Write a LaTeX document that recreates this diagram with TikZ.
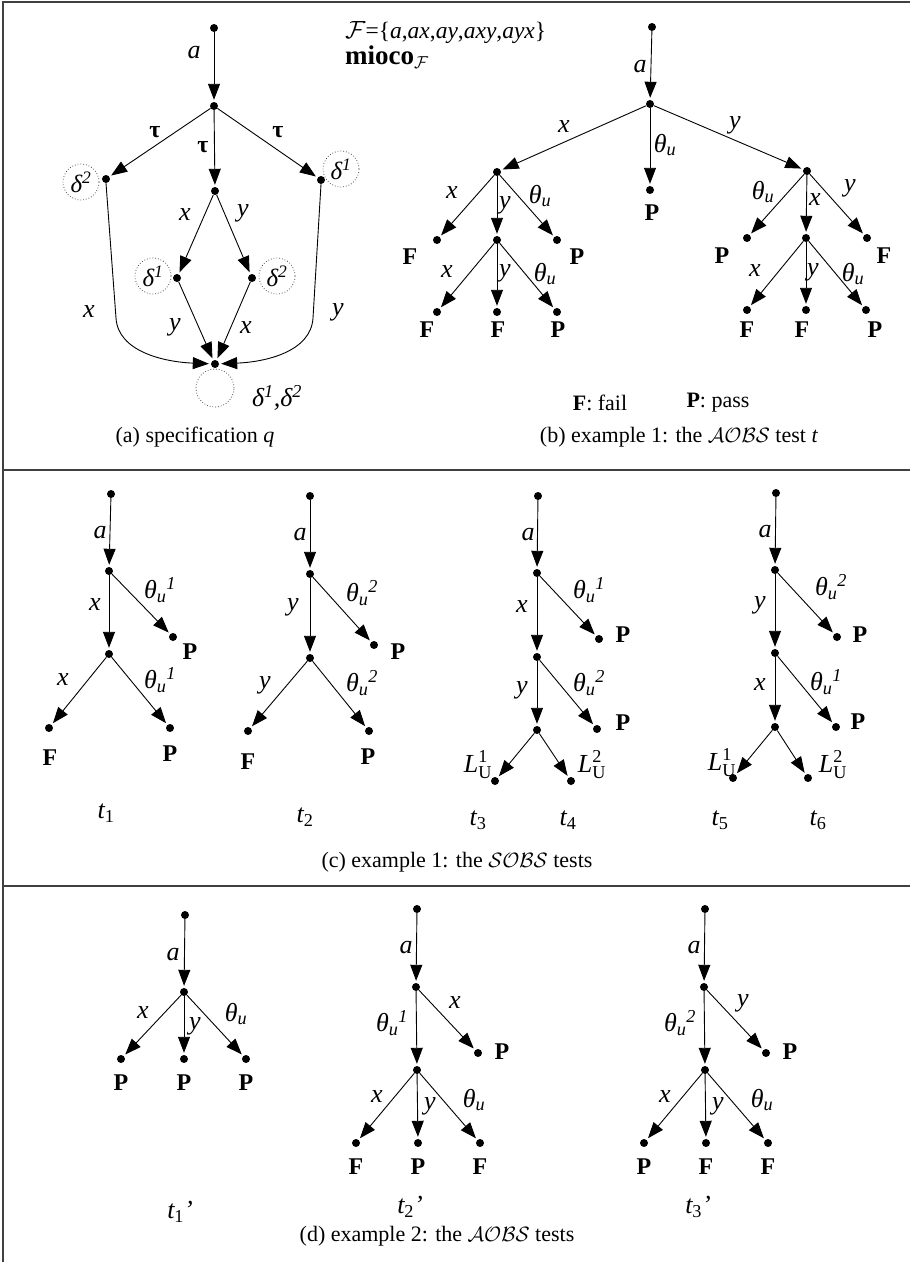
\documentclass[tikz,border=0pt]{standalone}
\usepackage{fontspec}
\usepackage{amsmath}
\setmainfont{Liberation Serif}
\usetikzlibrary{arrows.meta}

% label helpers
\newcommand{\thu}{\textit{θ}$_{\textit{u}}$}
\newcommand{\thuk}[1]{\textit{θ}$_{\textit{u}}{}^{\textit{#1}}$}
\newcommand{\dlt}[1]{\textit{δ}$^{\textit{#1}}$}
\newcommand{\LU}[1]{\textit{L}$_{\textup{U}}^{\textup{#1}}$}
\newcommand{\tsub}[1]{\textit{t}$_{\textup{#1}}$}

\tikzset{
  dot/.style={circle,fill=black,inner sep=0pt,minimum size=8pt},
  arr/.style={draw=black,line width=0.9pt,shorten >=2pt,-{Triangle[length=16pt,width=12pt]}},
  ring/.style={circle,draw=black!70,dotted,line width=0.8pt,inner sep=0pt,minimum size=36pt,
    font=\fontsize{25}{28}\selectfont\itshape},
  lbl/.style={font=\fontsize{26}{30}\selectfont\itshape,inner sep=0pt},
  term/.style={font=\fontsize{24}{28}\selectfont\bfseries,inner sep=0pt},
  captxt/.style={font=\fontsize{22}{26}\selectfont,inner sep=0pt},
  panelline/.style={draw=black!75,line width=1.5pt}
}

\begin{document}
\begin{tikzpicture}[x=1pt,y=-1pt]
\useasboundingbox (0,0) rectangle (910,1262);

% panel frame
\draw[panelline] (3,1262) -- (3,2) -- (910,2);
\draw[panelline] (3,470) -- (910,470);
\draw[panelline] (3,886) -- (910,886);

% ---------------- (a) specification ----------------
\node[dot] (a0) at (214,28) {};
\node[dot] (a1) at (214,106) {};
\node[dot] (aL) at (106,179) {};
\node[dot] (aM) at (215,191) {};
\node[dot] (aR) at (321,180) {};
\node[dot] (aML) at (177,278) {};
\node[dot] (aMR) at (252,278) {};
\node[dot] (aB) at (215,364) {};
\coordinate (lbend) at (116,318);
\coordinate (rbend) at (313,318);

\draw[arr] (a0) -- (a1);
\draw[arr] (a1) -- (aL);
\draw[arr] (a1) -- (aM);
\draw[arr] (a1) -- (aR);
\draw[arr] (aM) -- (aML);
\draw[arr] (aM) -- (aMR);
\draw[arr] (aML) -- (aB);
\draw[arr] (aMR) -- (aB);
\draw[arr] (aL.south) -- (lbend) .. controls (118,352) and (165,362) .. (aB);
\draw[arr] (aR.south) -- (rbend) .. controls (311,352) and (265,362) .. (aB);

\node[ring] (cL) at (81,182) {\dlt{2}};
\node[ring] (cR) at (341,169) {\dlt{1}};
\node[ring] (cML) at (153,276) {\dlt{1}};
\node[ring] (cMR) at (277,276) {\dlt{2}};
\node[ring,minimum size=38pt] (cB) at (215,388) {};

\node[lbl] (la1) at (194,53) {a};
\node[term] (la2) at (155,132) {τ};
\node[term] (la3) at (203,147) {τ};
\node[term] (la4) at (278,132) {τ};
\node[lbl] (la5) at (185,215) {x};
\node[lbl] (la6) at (243,213) {y};
\node[lbl] (la7) at (89,312) {x};
\node[lbl] (la8) at (338,312) {y};
\node[lbl] (la9) at (175,327) {y};
\node[lbl] (la10) at (246,328) {x};
\node[lbl] (la11) at (277,398) {\dlt{1},\dlt{2}};
\node[captxt] (capa) at (195,437) {(a) specification \textit{q}};

\node[captxt,anchor=west,font=\fontsize{23.5}{27}\selectfont] (fam) at (345,33)
  {$\mathcal{F}$=\{\textit{a},\textit{ax},\textit{ay},\textit{axy},\textit{ayx}\}};
\node[captxt,anchor=west,font=\fontsize{27}{30}\selectfont] (mio) at (345,57) {\textbf{mioco}$_{\mathcal{F}}$};

% ---------------- (b) AOBS test t ----------------
\node[dot] (b0) at (652,27) {};
\node[dot] (b1) at (650,104) {};
\node[dot] (bL) at (497,172) {};
\node[dot] (bM) at (650,190) {};
\node[dot] (bR) at (807,171) {};
\node[dot] (bL1) at (437,240) {};
\node[dot] (bL2) at (497,240) {};
\node[dot] (bL3) at (557,240) {};
\node[dot] (bL21) at (437,312) {};
\node[dot] (bL22) at (497,312) {};
\node[dot] (bL23) at (557,312) {};
\node[dot] (bR1) at (747,238) {};
\node[dot] (bR2) at (806,238) {};
\node[dot] (bR3) at (867,238) {};
\node[dot] (bR21) at (747,310) {};
\node[dot] (bR22) at (806,310) {};
\node[dot] (bR23) at (866,310) {};

\draw[arr] (b0) -- (b1);
\draw[arr] (b1) -- (bL);
\draw[arr] (b1) -- (bM);
\draw[arr] (b1) -- (bR);
\draw[arr] (bL) -- (bL1);
\draw[arr] (bL) -- (bL2);
\draw[arr] (bL) -- (bL3);
\draw[arr] (bL2) -- (bL21);
\draw[arr] (bL2) -- (bL22);
\draw[arr] (bL2) -- (bL23);
\draw[arr] (bR) -- (bR1);
\draw[arr] (bR) -- (bR2);
\draw[arr] (bR) -- (bR3);
\draw[arr] (bR2) -- (bR21);
\draw[arr] (bR2) -- (bR22);
\draw[arr] (bR2) -- (bR23);

\node[term] (tb1) at (652,213) {P};
\node[term] (tb2) at (410,257) {F};
\node[term] (tb3) at (577,257) {P};
\node[term] (tb4) at (427,330) {F};
\node[term] (tb5) at (498,330) {F};
\node[term] (tb6) at (558,330) {P};
\node[term] (tb7) at (722,256) {P};
\node[term] (tb8) at (884,256) {F};
\node[term] (tb9) at (747,330) {F};
\node[term] (tb10) at (802,330) {F};
\node[term] (tb11) at (875,330) {P};

\node[lbl] (lb1) at (640,67) {a};
\node[lbl] (lb2) at (564,127) {x};
\node[lbl] (lb3) at (665,145) {\thu};
\node[lbl] (lb4) at (735,125) {y};
\node[lbl] (lb5) at (452,193) {x};
\node[lbl] (lb6) at (505,205) {y};
\node[lbl] (lb7) at (540,196) {\thu};
\node[lbl] (lb8) at (447,272) {x};
\node[lbl] (lb9) at (505,273) {y};
\node[lbl] (lb10) at (545,274) {\thu};
\node[lbl] (lb11) at (763,192) {\thu};
\node[lbl] (lb12) at (815,200) {x};
\node[lbl] (lb13) at (850,188) {y};
\node[lbl] (lb14) at (755,271) {x};
\node[lbl] (lb15) at (813,272) {y};
\node[lbl] (lb16) at (853,274) {\thu};

\node[captxt] (legF) at (600,403) {\textbf{F}: fail};
\node[captxt] (legP) at (718,403) {\textbf{P}: pass};
\node[captxt] (capb) at (679,437) {(b) example 1: the $\mathcal{AOBS}$ test \textit{t}};

% ---------------- (c) SOBS tests ----------------
% t1
\node[dot] (c1r) at (111,494) {};
\node[dot] (c1a) at (109,571) {};
\node[dot] (c1p) at (173,637) {};
\node[dot] (c1b) at (109,654) {};
\node[dot] (c1f) at (49,728) {};
\node[dot] (c1q) at (170,728) {};
\draw[arr] (c1r) -- (c1a);
\draw[arr] (c1a) -- (c1p);
\draw[arr] (c1a) -- (c1b);
\draw[arr] (c1b) -- (c1f);
\draw[arr] (c1b) -- (c1q);
\node[term] (tc1) at (190,652) {P};
\node[term] (tc2) at (50,758) {F};
\node[term] (tc3) at (170,754) {P};
\node[lbl] (lc1) at (100,533) {a};
\node[lbl] (lc2) at (95,605) {x};
\node[lbl] (lc3) at (160,590) {\thuk{1}};
\node[lbl] (lc4) at (63,680) {x};
\node[lbl] (lc5) at (160,680) {\thuk{1}};
\node[lbl] (nt1) at (106,813) {\tsub{1}};

% t2
\node[dot] (c2r) at (310,496) {};
\node[dot] (c2a) at (310,574) {};
\node[dot] (c2p) at (374,645) {};
\node[dot] (c2b) at (310,658) {};
\node[dot] (c2f) at (248,731) {};
\node[dot] (c2q) at (369,731) {};
\draw[arr] (c2r) -- (c2a);
\draw[arr] (c2a) -- (c2p);
\draw[arr] (c2a) -- (c2b);
\draw[arr] (c2b) -- (c2f);
\draw[arr] (c2b) -- (c2q);
\node[term] (tc4) at (398,652) {P};
\node[term] (tc5) at (248,762) {F};
\node[term] (tc6) at (368,757) {P};
\node[lbl] (lc6) at (300,535) {a};
\node[lbl] (lc7) at (293,607) {y};
\node[lbl] (lc8) at (362,593) {\thuk{2}};
\node[lbl] (lc9) at (265,685) {y};
\node[lbl] (lc10) at (362,683) {\thuk{2}};
\node[lbl] (nt2) at (305,817) {\tsub{2}};

% t3, t4
\node[dot] (c3r) at (538,496) {};
\node[dot] (c3a) at (537,573) {};
\node[dot] (c3p) at (599,639) {};
\node[dot] (c3b) at (537,657) {};
\node[dot] (c3q) at (597,729) {};
\node[dot] (c3c) at (537,730) {};
\node[dot] (c3l) at (495,781) {};
\node[dot] (c3m) at (571,781) {};
\draw[arr] (c3r) -- (c3a);
\draw[arr] (c3a) -- (c3p);
\draw[arr] (c3a) -- (c3b);
\draw[arr] (c3b) -- (c3q);
\draw[arr] (c3b) -- (c3c);
\draw[arr] (c3c) -- (c3l);
\draw[arr] (c3c) -- (c3m);
\node[term] (tc7) at (623,635) {P};
\node[term] (tc8) at (623,723) {P};
\node[lbl] (lc11) at (478,765) {\LU{1}};
\node[lbl] (lc12) at (592,765) {\LU{2}};
\node[lbl] (lc13) at (528,535) {a};
\node[lbl] (lc14) at (522,607) {x};
\node[lbl] (lc15) at (589,590) {\thuk{1}};
\node[lbl] (lc16) at (522,690) {y};
\node[lbl] (lc17) at (589,683) {\thuk{2}};
\node[lbl] (nt3) at (478,820) {\tsub{3}};
\node[lbl] (nt4) at (568,820) {\tsub{4}};

% t5, t6
\node[dot] (c5r) at (776,493) {};
\node[dot] (c5a) at (775,570) {};
\node[dot] (c5p) at (837,637) {};
\node[dot] (c5b) at (775,653) {};
\node[dot] (c5q) at (836,727) {};
\node[dot] (c5c) at (775,727) {};
\node[dot] (c5l) at (733,778) {};
\node[dot] (c5m) at (808,778) {};
\draw[arr] (c5r) -- (c5a);
\draw[arr] (c5a) -- (c5p);
\draw[arr] (c5a) -- (c5b);
\draw[arr] (c5b) -- (c5q);
\draw[arr] (c5b) -- (c5c);
\draw[arr] (c5c) -- (c5l);
\draw[arr] (c5c) -- (c5m);
\node[term] (tc9) at (860,635) {P};
\node[term] (tc10) at (858,722) {P};
\node[lbl] (lc18) at (722,763) {\LU{1}};
\node[lbl] (lc19) at (833,765) {\LU{2}};
\node[lbl] (lc20) at (765,532) {a};
\node[lbl] (lc21) at (760,605) {y};
\node[lbl] (lc22) at (831,587) {\thuk{2}};
\node[lbl] (lc23) at (760,685) {x};
\node[lbl] (lc24) at (826,682) {\thuk{1}};
\node[lbl] (nt5) at (720,820) {\tsub{5}};
\node[lbl] (nt6) at (818,820) {\tsub{6}};

\node[captxt] (capc) at (457,862) {(c) example 1: the $\mathcal{SOBS}$ tests};

% ---------------- (d) example 2 ----------------
% t1'
\node[dot] (d1r) at (185,915) {};
\node[dot] (d1a) at (184,992) {};
\node[dot] (d1x) at (121,1059) {};
\node[dot] (d1y) at (184,1059) {};
\node[dot] (d1t) at (246,1059) {};
\draw[arr] (d1r) -- (d1a);
\draw[arr] (d1a) -- (d1x);
\draw[arr] (d1a) -- (d1y);
\draw[arr] (d1a) -- (d1t);
\node[term] (td1) at (121,1083) {P};
\node[term] (td2) at (184,1083) {P};
\node[term] (td3) at (246,1083) {P};
\node[lbl] (ld1) at (173,955) {a};
\node[lbl] (ld2) at (143,1013) {x};
\node[lbl] (ld3) at (195,1026) {y};
\node[lbl] (ld4) at (236,1014) {\thu};
\node[lbl] (nd1) at (180,1212) {\tsub{1}'};

% t2'
\node[dot] (d2r) at (417,909) {};
\node[dot] (d2a) at (416,987) {};
\node[dot] (d2p) at (478,1053) {};
\node[dot] (d2b) at (417,1070) {};
\node[dot] (d2x) at (356,1143) {};
\node[dot] (d2y) at (418,1143) {};
\node[dot] (d2t) at (480,1143) {};
\draw[arr] (d2r) -- (d2a);
\draw[arr] (d2a) -- (d2p);
\draw[arr] (d2a) -- (d2b);
\draw[arr] (d2b) -- (d2x);
\draw[arr] (d2b) -- (d2y);
\draw[arr] (d2b) -- (d2t);
\node[term] (td4) at (502,1052) {P};
\node[term] (td5) at (356,1167) {F};
\node[term] (td6) at (418,1167) {P};
\node[term] (td7) at (480,1167) {F};
\node[lbl] (ld5) at (406,948) {a};
\node[lbl] (ld6) at (392,1023) {\thuk{1}};
\node[lbl] (ld7) at (455,1003) {x};
\node[lbl] (ld8) at (377,1097) {x};
\node[lbl] (ld9) at (430,1106) {y};
\node[lbl] (ld10) at (474,1100) {\thu};
\node[lbl] (nd2) at (410,1207) {\tsub{2}'};

% t3'
\node[dot] (d3r) at (705,909) {};
\node[dot] (d3a) at (704,987) {};
\node[dot] (d3p) at (766,1053) {};
\node[dot] (d3b) at (705,1070) {};
\node[dot] (d3x) at (644,1143) {};
\node[dot] (d3y) at (706,1143) {};
\node[dot] (d3t) at (768,1143) {};
\draw[arr] (d3r) -- (d3a);
\draw[arr] (d3a) -- (d3p);
\draw[arr] (d3a) -- (d3b);
\draw[arr] (d3b) -- (d3x);
\draw[arr] (d3b) -- (d3y);
\draw[arr] (d3b) -- (d3t);
\node[term] (td8) at (790,1052) {P};
\node[term] (td9) at (644,1167) {P};
\node[term] (td10) at (706,1167) {F};
\node[term] (td11) at (768,1167) {F};
\node[lbl] (ld11) at (694,948) {a};
\node[lbl] (ld12) at (680,1023) {\thuk{2}};
\node[lbl] (ld13) at (743,1003) {y};
\node[lbl] (ld14) at (665,1097) {x};
\node[lbl] (ld15) at (718,1106) {y};
\node[lbl] (ld16) at (762,1100) {\thu};
\node[lbl] (nd3) at (698,1207) {\tsub{3}'};

\node[captxt] (capd) at (437,1236) {(d) example 2: the $\mathcal{AOBS}$ tests};
\end{tikzpicture}
\end{document}
